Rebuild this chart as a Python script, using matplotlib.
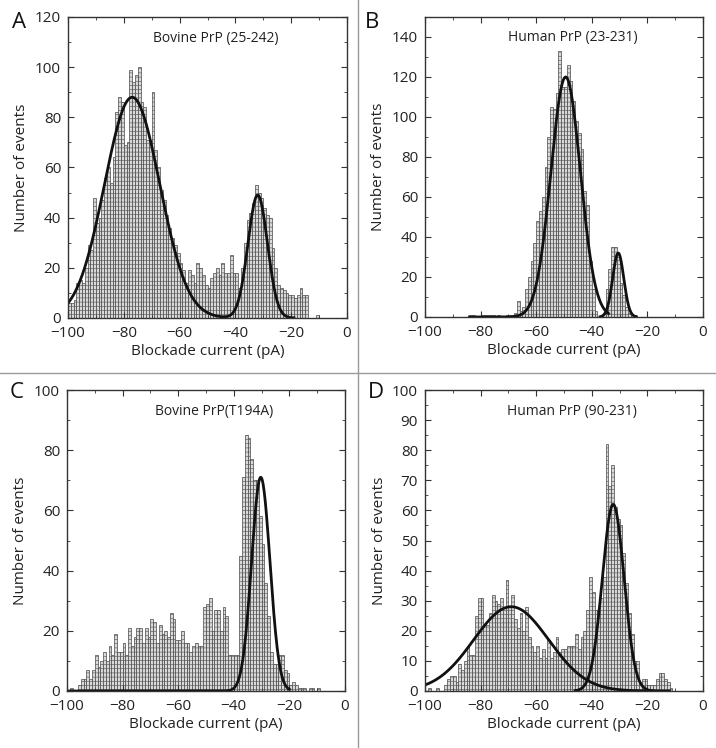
import matplotlib.pyplot as plt
import numpy as np
from matplotlib.ticker import MultipleLocator

plt.rcParams['font.family'] = ['Open Sans', 'DejaVu Sans']
plt.rcParams['hatch.linewidth'] = 0.4

# histogram counts, 1 pA bins, listed from the left edge given in *_start
a_start = -100
a_counts = [6, 6, 7, 14, 15, 14, 20, 29, 27, 48, 38, 40, 47, 56, 60, 54, 64, 82, 88, 86,
            69, 70, 99, 94, 97, 100, 86, 84, 71, 71, 90, 67, 60, 51, 47, 41, 36, 32, 29, 26,
            22, 19, 14, 19, 17, 14, 22, 20, 17, 13, 12, 16, 18, 20, 17, 22, 18, 18, 25, 18,
            18, 12, 20, 30, 39, 42, 46, 53, 50, 48, 44, 41, 40, 28, 20, 13, 12, 11, 10, 9,
            9, 8, 9, 12, 9, 9, 0, 0, 0, 1]

b_start = -84
b_counts = [1, 1, 0, 0, 1, 1, 1, 1, 1, 0, 1, 0, 0, 1, 1, 1, 2, 8, 3, 5,
            14, 20, 28, 37, 48, 53, 60, 75, 90, 105, 104, 112, 133, 115, 115, 126, 118, 108, 98, 92,
            84, 63, 56, 28, 14, 3, 0, 0, 2, 14, 24, 35, 35, 30, 17, 11, 5, 2, 1, 1]

c_start = -99
c_counts = [1, 0, 0, 2, 4, 4, 7, 4, 7, 12, 8, 10, 13, 10, 15, 12, 19, 13, 13, 16,
            12, 21, 15, 18, 21, 21, 16, 21, 18, 24, 23, 16, 22, 19, 20, 18, 26, 24, 17, 17,
            20, 16, 16, 13, 15, 16, 15, 15, 28, 29, 31, 20, 27, 27, 20, 28, 25, 12, 12, 12,
            12, 45, 71, 85, 84, 77, 70, 70, 58, 49, 36, 25, 13, 9, 9, 12, 12, 7, 6, 2,
            3, 2, 1, 1, 1, 0, 1, 1, 0, 1]

d_start = -99
d_counts = [1, 0, 0, 1, 0, 0, 2, 4, 5, 5, 3, 9, 7, 10, 15, 12, 12, 25, 31, 31,
            22, 22, 26, 32, 30, 29, 31, 28, 37, 28, 32, 24, 21, 26, 20, 28, 18, 15, 13, 15,
            11, 14, 11, 17, 11, 13, 18, 13, 14, 14, 15, 15, 15, 19, 14, 18, 20, 27, 38, 33,
            27, 27, 31, 38, 82, 68, 75, 61, 57, 55, 46, 36, 26, 19, 10, 10, 3, 4, 4, 2,
            2, 2, 4, 6, 6, 4, 3, 1]

# gaussian fits: (amplitude, centre, sigma, x from, x to)
a_fits = [(88, -77, 9.9, -100, -19), (49, -32, 3.5, -100, -19)]
b_fits = [(120, -49.4, 5.3, -84, -34), (32, -30.5, 2.0, -37, -24)]
c_fits = [(71, -30.3, 3.3, -100, -20)]
d_fits = [(28, -69, 13.5, -100, -12), (62, -32.3, 3.9, -46, -18)]

panels = [
    ('A', 'Bovine PrP (25-242)', a_start, a_counts, a_fits, 120, 20, 10, True),
    ('B', 'Human PrP (23-231)', b_start, b_counts, b_fits, 150, 20, 10, False),
    ('C', 'Bovine PrP(T194A)', c_start, c_counts, c_fits, 100, 20, 10, False),
    ('D', 'Human PrP (90-231)', d_start, d_counts, d_fits, 100, 10, 5, False),
]

W, H = 716, 748
fig = plt.figure(figsize=(W / 100, H / 100), dpi=100)

# axes boxes in pixels: left, right, top, bottom
boxes = [(68, 347, 17, 318), (425, 703, 17, 317), (67, 345, 390, 691), (425, 703, 390, 691)]
letters_xy = [(19, 22), (372, 22), (17, 393), (376, 393)]

for (letter, title, start, counts, fits, ytop, ymaj, ymin, sumfit), box, lxy in zip(panels, boxes, letters_xy):
    l, r, t, b = box
    ax = fig.add_axes([l / W, 1 - b / H, (r - l) / W, (b - t) / H])
    edges = start + np.arange(len(counts))
    ax.bar(edges, counts, width=1.0, align='edge', facecolor='#d9d9d9',
           edgecolor='#484848', linewidth=0.5, hatch='----')
    if sumfit:
        x = np.linspace(fits[0][3], fits[0][4], 600)
        y = sum(amp * np.exp(-(x - mu) ** 2 / (2 * s ** 2)) for amp, mu, s, _, _ in fits)
        ax.plot(x, y, color='#111111', lw=2)
    else:
        for amp, mu, s, x0, x1 in fits:
            x = np.linspace(x0, x1, 400)
            ax.plot(x, amp * np.exp(-(x - mu) ** 2 / (2 * s ** 2)), color='#111111', lw=2)
    ax.set_xlim(-100, 0)
    ax.set_ylim(0, ytop)
    ax.xaxis.set_major_locator(MultipleLocator(20))
    ax.xaxis.set_minor_locator(MultipleLocator(10))
    ax.yaxis.set_major_locator(MultipleLocator(ymaj))
    ax.yaxis.set_minor_locator(MultipleLocator(ymin))
    if ytop == 150:
        ax.set_yticks(np.arange(0, 141, 20))
    ax.tick_params(which='both', direction='in', top=True, right=True, colors='#333333',
                   labelcolor='#222222', labelsize=11)
    ax.tick_params(axis='x', pad=6)
    ax.tick_params(axis='y', pad=5)
    ax.tick_params(which='major', length=4)
    ax.tick_params(which='minor', length=2.5)
    for sp in ax.spines.values():
        sp.set_color('#333333')
        sp.set_linewidth(1.0)
    ax.set_xlabel('Blockade current (pA)', fontsize=11, color='#222222', labelpad=2)
    ax.set_ylabel('Number of events', fontsize=11, color='#222222', labelpad=4)
    ax.text(0.53, 0.93, title, transform=ax.transAxes, ha='center', va='center',
            fontsize=10, color='#222222')
    fig.text(lxy[0] / W, 1 - lxy[1] / H, letter, ha='center', va='center',
             fontsize=16, color='#111111')

# panel dividers
fig.add_artist(plt.Line2D([358 / W, 358 / W], [0, 1], color='#999999', lw=1))
fig.add_artist(plt.Line2D([0, 1], [1 - 373 / H, 1 - 373 / H], color='#999999', lw=1))

fig.savefig('out.png', dpi=100)
